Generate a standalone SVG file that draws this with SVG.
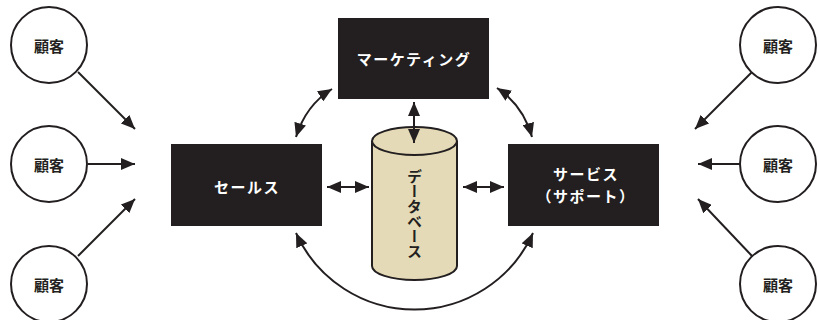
<svg xmlns="http://www.w3.org/2000/svg" width="818" height="320" viewBox="0 0 818 320">
<defs>
<style>
.cust circle{fill:#fff;stroke:#231f20;stroke-width:2}
.cust text{font-family:"Noto Sans CJK JP","Noto Sans",sans-serif;font-weight:bold;font-size:15px;fill:#231f20;text-anchor:middle;dominant-baseline:central}
.box rect{fill:#231f20}
.box text{font-family:"Noto Sans CJK JP","Noto Sans",sans-serif;font-weight:bold;font-size:15px;fill:#fff;text-anchor:middle;dominant-baseline:central;letter-spacing:1.5px}
.conn path{fill:none;stroke:#231f20;stroke-width:2}
.db{fill:#e5dab7;stroke:#231f20;stroke-width:2}
.dbt{font-family:"Noto Sans CJK JP","Noto Sans",sans-serif;font-weight:bold;font-size:15px;fill:#231f20;writing-mode:vertical-rl}
</style>
<marker id="ah" viewBox="0 0 14 12" refX="14" refY="6" markerWidth="14" markerHeight="12" markerUnits="userSpaceOnUse" orient="auto-start-reverse">
<path d="M0,0 L14,6 L0,12 Z" fill="#231f20"/>
</marker>
</defs>
<rect width="818" height="320" fill="#fff"/>

<g id="database">
<path class="db" d="M372,141 L372,266 A42.5,14 0 0 0 457,266 L457,141"/>
<ellipse class="db" cx="414.5" cy="141" rx="42.5" ry="14"/>
<text class="dbt" x="414.5" y="169">データベース</text>
</g>

<g class="conn" id="connectors">
<path d="M78,72 L135,129" marker-end="url(#ah)"/>
<path d="M88,164 L135,164" marker-end="url(#ah)"/>
<path d="M78,256 L135,199" marker-end="url(#ah)"/>
<path d="M752,72 L695,129" marker-end="url(#ah)"/>
<path d="M740,164 L698,164" marker-end="url(#ah)"/>
<path d="M752,256 L698,199" marker-end="url(#ah)"/>
<path d="M327,187 L369,187" marker-start="url(#ah)" marker-end="url(#ah)"/>
<path d="M463,187 L504,187" marker-start="url(#ah)" marker-end="url(#ah)"/>
<path d="M414,102 L414,143" marker-start="url(#ah)" marker-end="url(#ah)"/>
<path d="M332,89 Q306,105 296,137" marker-start="url(#ah)" marker-end="url(#ah)"/>
<path d="M497,88 Q523,105 532,137" marker-start="url(#ah)" marker-end="url(#ah)"/>
<path d="M296,233 A130,130 0 0 0 533,233" marker-start="url(#ah)" marker-end="url(#ah)"/>
</g>

<g id="sales" class="box"><rect x="171" y="144" width="151" height="82"/><text x="247" y="186">セールス</text></g>
<g id="marketing" class="box"><rect x="338" y="18" width="151" height="81"/><text x="414" y="58">マーケティング</text></g>
<g id="service" class="box"><rect x="508" y="144" width="151" height="82"/><text x="586" y="173">サービス</text><text x="586" y="195">（サポート）</text></g>

<g id="cust-l1" class="cust"><circle cx="49" cy="45" r="38"/><text x="49" y="45">顧客</text></g>
<g id="cust-l2" class="cust"><circle cx="49" cy="164" r="38"/><text x="49" y="164">顧客</text></g>
<g id="cust-l3" class="cust"><circle cx="49" cy="284" r="38"/><text x="49" y="284">顧客</text></g>
<g id="cust-r1" class="cust"><circle cx="778" cy="45" r="38"/><text x="778" y="45">顧客</text></g>
<g id="cust-r2" class="cust"><circle cx="778" cy="164" r="38"/><text x="778" y="164">顧客</text></g>
<g id="cust-r3" class="cust"><circle cx="778" cy="284" r="38"/><text x="778" y="284">顧客</text></g>
</svg>
